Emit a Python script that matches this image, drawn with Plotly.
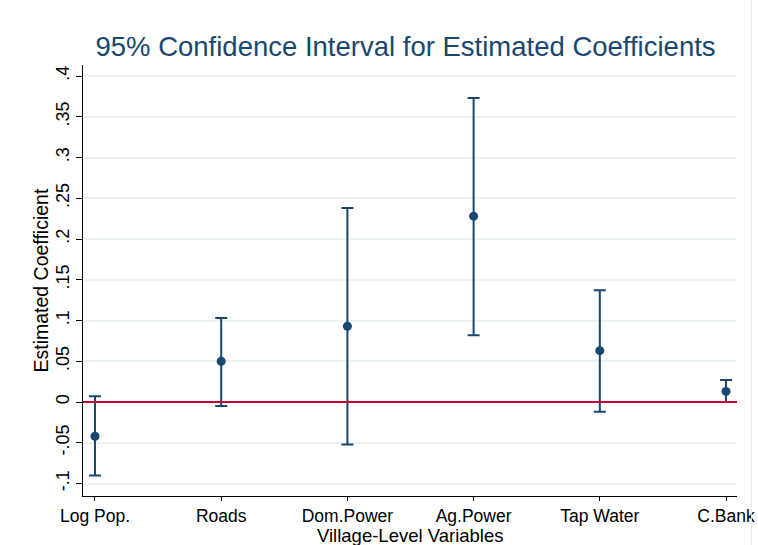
import plotly.graph_objects as go

categories = ["Log Pop.", "Roads", "Dom.Power", "Ag.Power", "Tap Water", "C.Bank"]
estimates = [-0.042, 0.050, 0.093, 0.228, 0.063, 0.013]
upper = [0.007, 0.103, 0.238, 0.373, 0.137, 0.027]
lower = [-0.090, -0.005, -0.052, 0.082, -0.012, 0.000]
ytick_vals = [-0.1, -0.05, 0, 0.05, 0.1, 0.15, 0.2, 0.25, 0.3, 0.35, 0.4]
ytick_text = ["-.1", "-.05", "0", ".05", ".1", ".15", ".2", ".25", ".3", ".35", ".4"]

navy = "#1a476f"
xpos = list(range(1, len(categories) + 1))
err_plus = [u - e for u, e in zip(upper, estimates)]
err_minus = [e - l for e, l in zip(estimates, lower)]

fig = go.Figure()
fig.add_trace(go.Scatter(
    x=xpos, y=estimates, mode="markers",
    marker=dict(color=navy, size=9),
    error_y=dict(type="data", array=err_plus, arrayminus=err_minus,
                 color=navy, thickness=2, width=6, symmetric=False),
    showlegend=False,
))
fig.add_shape(type="line", xref="paper", yref="y", x0=0, x1=1, y0=0, y1=0,
              line=dict(color="#c10534", width=2))
fig.add_shape(type="line", xref="paper", yref="paper", x0=1.022, x1=1.022, y0=-0.12, y1=1.15,
              line=dict(color="#e6e6e6", width=1))

fig.add_annotation(text="Village-Level Variables", xref="paper", yref="paper",
                   x=0.5, y=-0.0915, xanchor="center", yanchor="middle",
                   showarrow=False, font=dict(size=18.5))
fig.add_annotation(text="Estimated Coefficient", xref="paper", yref="paper",
                   x=-0.0657, y=0.5, xanchor="center", yanchor="middle", textangle=-90,
                   showarrow=False, font=dict(size=19.5))

fig.update_layout(
    width=758, height=545,
    margin=dict(l=83, r=21, t=65, b=49, autoexpand=False),
    paper_bgcolor="white", plot_bgcolor="white",
    font=dict(family="Liberation Sans, Arial, sans-serif", size=18, color="black"),
    title=dict(text="95% Confidence Interval for Estimated Coefficients",
               x=0.535, xanchor="center", y=0.915, yanchor="middle",
               font=dict(size=27.5, color=navy)),
    xaxis=dict(range=[0.905, 6.087], tickvals=xpos, ticktext=categories,
               showline=True, linecolor="black", linewidth=1,
               ticks="outside", ticklen=4, tickcolor="black",
               showgrid=False, zeroline=False, automargin=False,
               tickfont=dict(size=17.5)),
    yaxis=dict(range=[-0.1153, 0.4135], tickvals=ytick_vals, ticktext=ytick_text,
               tickangle=-90, automargin=False,
               showline=True, linecolor="black", linewidth=1,
               ticks="outside", ticklen=6, tickcolor="black",
               showgrid=True, gridcolor="#eaf2f3", gridwidth=2, zeroline=False,
               tickfont=dict(size=18)),
)

fig.write_html("out.html")
